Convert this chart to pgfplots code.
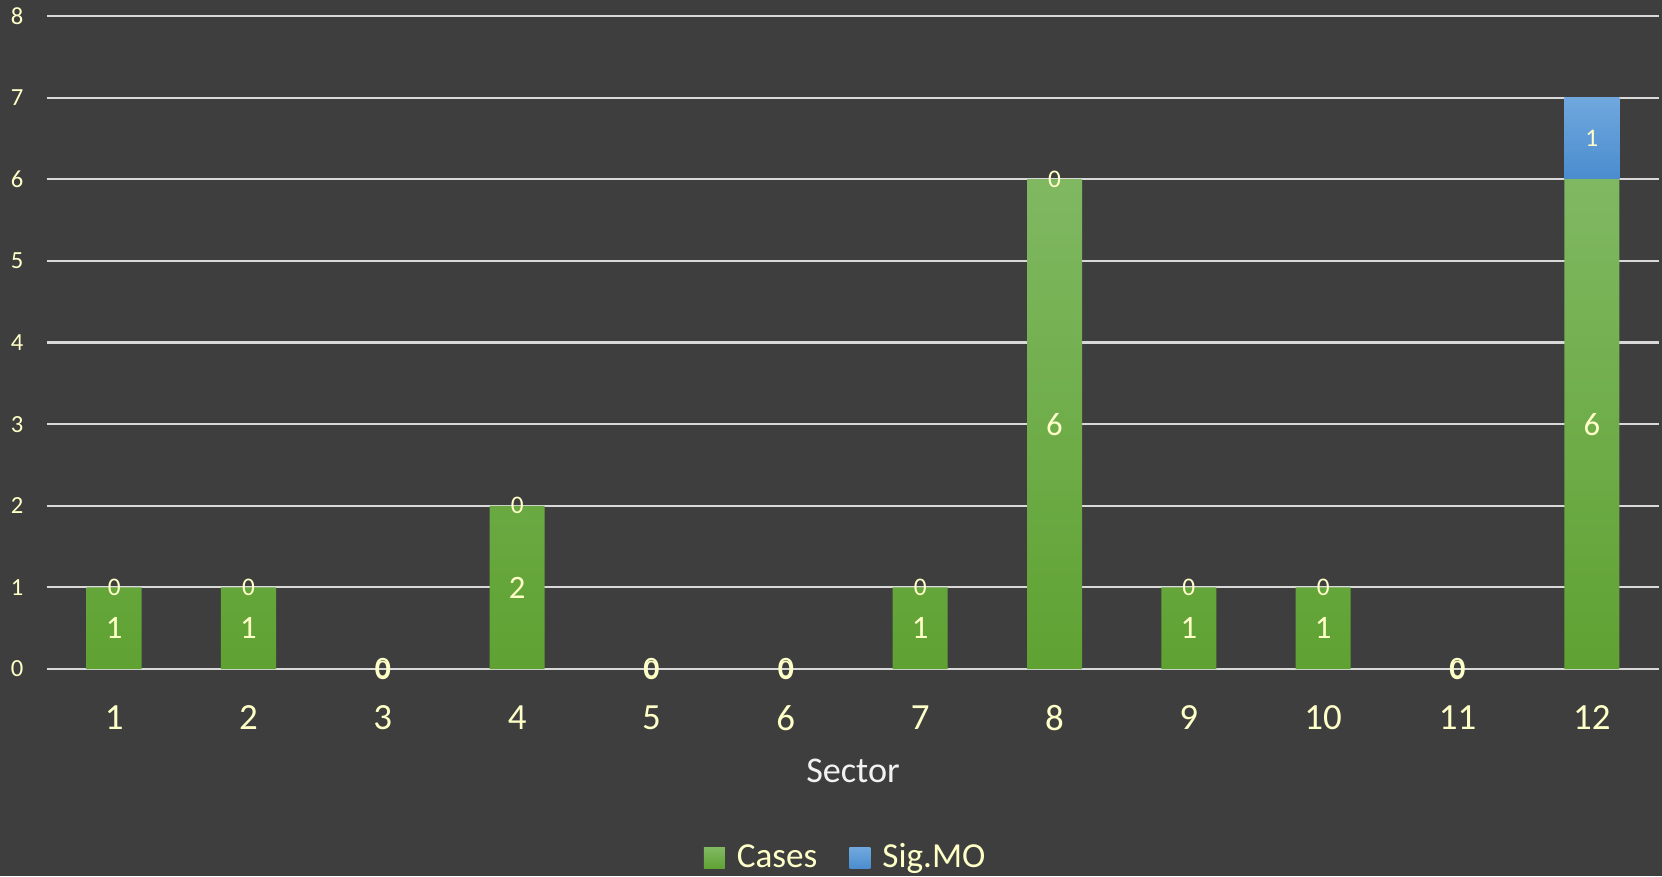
\documentclass[border=0pt]{standalone}
\usepackage{fontspec}
\setmainfont{Carlito}
\usepackage{pgfplots}
\usepackage{pgfplotstable}
\pgfplotsset{compat=1.18}
\usetikzlibrary{backgrounds}

\definecolor{bgc}{HTML}{3E3E3E}
\definecolor{gridc}{HTML}{D9D9D9}
\definecolor{txt}{HTML}{FFFFC8}
\definecolor{labc}{HTML}{F2F2F2}
\definecolor{gtop}{HTML}{80B862}
\definecolor{gbot}{HTML}{5FA232}
\definecolor{btop}{HTML}{70A8DE}
\definecolor{bbot}{HTML}{4A8CCF}

\pgfplotstableread{
sector cases sig
1  1 0
2  1 0
3  0 0
4  2 0
5  0 0
6  0 0
7  1 0
8  6 0
9  1 0
10 1 0
11 0 0
12 6 1
}\datatable

\pgfplotsset{
  frame/.style={
    x=1.3433cm, y=0.81625cm,
    xmin=0.5, xmax=12.5, ymin=0, ymax=8,
  },
}

\begin{document}
\begin{tikzpicture}
\begin{axis}[
  name=ax, frame,
  ybar stacked, bar width=0.55cm,
  axis line style={draw=none},
  tick style={draw=none},
  xtick={1,...,12}, ytick={0,...,8},
  ymajorgrids, major grid style={gridc, line width=0.6pt},
  /pgf/number format/assume math mode=true,
  yticklabel style={font=\fontsize{7}{8}\selectfont, text=txt, inner sep=0pt, anchor=east, xshift=-0.23cm},
  xticklabel style={font=\fontsize{10.5}{12}\selectfont, text=txt, inner sep=0pt, anchor=north, yshift=-0.36cm},
  xlabel={Sector},
  xlabel style={at={(axis description cs:0.5,-0.156)}, anchor=center, font=\fontsize{10.3}{12}\selectfont, text=labc},
  legend style={at={(0.497,-0.29)}, anchor=center, draw=none, fill=none,
    legend columns=2, font=\fontsize{10}{12}\selectfont, text=txt, nodes={text=txt},
    /tikz/every even column/.append style={column sep=0.25cm}},
  legend image code/.code={\fill[#1] (0cm,-0.105cm) rectangle (0.21cm,0.105cm); \path (0.26cm,0cm);},
]
\addplot[draw=none, top color=gtop, bottom color=gbot] table[x=sector, y=cases] {\datatable};
\addlegendentry{Cases}
\addplot[draw=none, top color=btop, bottom color=bbot] table[x=sector, y=sig] {\datatable};
\addlegendentry{Sig.MO}
\end{axis}

% value labels, centred in each segment
\begin{axis}[
  frame, hide axis,
  /pgf/number format/assume math mode=true,
  nodes near coords,
  point meta=explicit,
  every node near coord/.append style={anchor=center, text=txt, inner sep=0pt},
]
\addplot[only marks, mark=none, nodes near coords style={font=\fontsize{9.3}{10}\selectfont}]
  table[x=sector, y expr=\thisrow{cases}/2, meta=cases] {\datatable};
\addplot[only marks, mark=none, nodes near coords style={font=\fontsize{7.2}{8}\selectfont}]
  table[x=sector, y expr=\thisrow{cases}+\thisrow{sig}/2, meta=sig] {\datatable};
\end{axis}

\begin{pgfonlayer}{background}
\fill[bgc] ([xshift=-0.47cm,yshift=-2.07cm]ax.south west) rectangle ([xshift=0.03cm,yshift=0.16cm]ax.north east);
\end{pgfonlayer}
\pgfresetboundingbox
\path[use as bounding box] ([xshift=-0.47cm,yshift=-2.07cm]ax.south west) rectangle ([xshift=0.03cm,yshift=0.16cm]ax.north east);
\end{tikzpicture}
\end{document}
